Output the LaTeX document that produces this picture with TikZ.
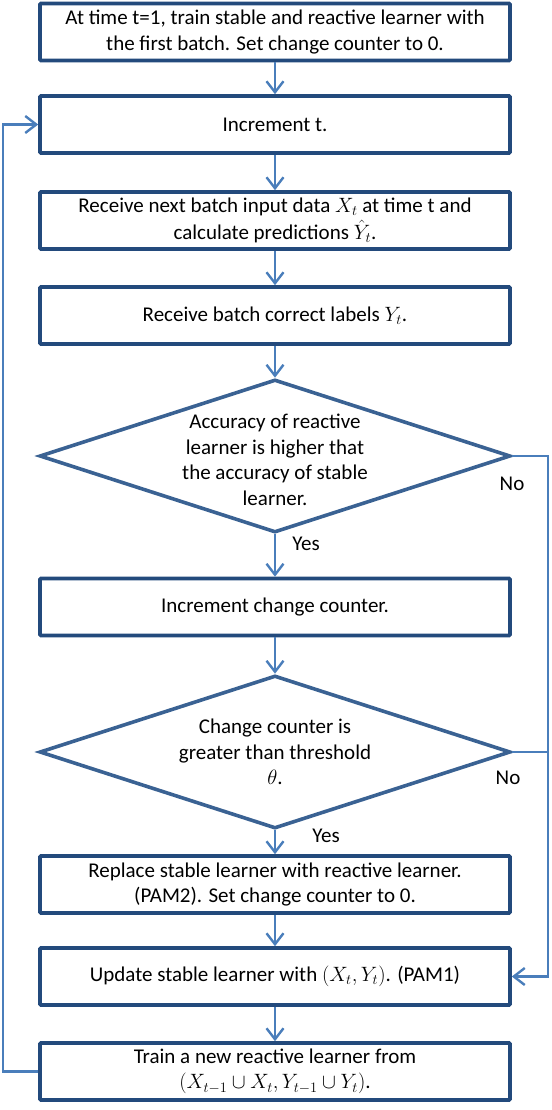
\documentclass[tikz,border=0pt]{standalone}
\usepackage{fontspec}
\setmainfont{Carlito}
\usetikzlibrary{shapes.geometric,arrows.meta}
\definecolor{boxc}{HTML}{234A7C}
\definecolor{diac}{HTML}{3A6293}
\definecolor{linec}{HTML}{4A7EBB}
\begin{document}
\begin{tikzpicture}[x=1pt,y=-1pt,
  every node/.style={font=\fontsize{21}{25.5}\selectfont},
  box/.style={draw=boxc, line width=3.6pt, minimum width=470pt, minimum height=57pt, inner sep=0pt, align=center, rounded corners=1pt},
  dia/.style={draw=diac, shape=diamond, line width=3.6pt, minimum width=471pt, minimum height=153pt, inner sep=0pt},
  dtext/.style={align=center, inner sep=0pt},
  lbl/.style={inner sep=0pt},
  conn/.style={draw=linec, line width=2.4pt},
  arr/.style={conn, -{Straight Barb[length=11pt,width=17pt,line width=2.4pt]}}
]
\useasboundingbox (0,0) rectangle (551,1110);
\node[box] (b1) at (275,32) {At time t=1, train stable and reactive learner with\\the first batch. Set change counter to 0.};
\node[box] (b2) at (275,124.5) {Increment t.};
\node[box] (b3) at (275,220.5) {Receive next batch input data $X_t$ at time t and\\[1.5pt]calculate predictions $\hat{Y}_t$.};
\node[box] (b4) at (275,315.5) {Receive batch correct labels $Y_t$.};
\node[dia] (d1) at (275,456) {};
\node[dtext] (d1t) at (275,460) {Accuracy of reactive\\learner is higher that\\the accuracy of stable\\learner.};
\node[box] (b5) at (275,607) {Increment change counter.};
\node[dia] (d2) at (275,752) {};
\node[dtext] (d2t) at (275,752) {Change counter is\\greater than threshold\\$\theta$.};
\node[box] (b6) at (275,884.5) {Replace stable learner with reactive learner.\\(PAM2). Set change counter to 0.};
\node[box] (b7) at (275,976.5) {Update stable learner with $(X_t, Y_t)$. (PAM1)};
\node[box] (b8) at (275,1071.5) {Train a new reactive learner from\\$(X_{t-1}\cup X_t, Y_{t-1}\cup Y_t)$.};
\node[lbl] (no1) at (512,484) {No};
\node[lbl] (no2) at (508,778) {No};
\node[lbl] (yes1) at (306,544) {Yes};
\node[lbl] (yes2) at (326,836) {Yes};
\coordinate (rt) at (548,0);
\coordinate (lf) at (3,0);
\draw[arr] (b1) -- (b2);
\draw[arr] (b2) -- (b3);
\draw[arr] (b3) -- (b4);
\draw[arr] (b4) -- (d1);
\draw[arr] (d1) -- (b5);
\draw[arr] (b5) -- (d2);
\draw[arr] (d2) -- (b6);
\draw[arr] (b6) -- (b7);
\draw[arr] (b7) -- (b8);
\draw[arr] (d1.east) -- (d1.east -| rt) -- (b7.east -| rt) -- (b7.east);
\draw[conn] (d2.east) -- (d2.east -| rt);
\draw[arr] (b8.west) -- (b8.west -| lf) -- (b2.west -| lf) -- (b2.west);
\end{tikzpicture}
\end{document}
